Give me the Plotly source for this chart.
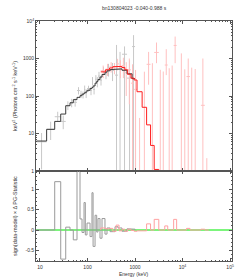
import math
import plotly.graph_objects as go

title_text = "bn130804023 -0.040-0.988 s"
x_title = "Energy (keV)"
y_title_top = "keV<sup>2</sup> (Photons cm<sup>-2</sup> s<sup>-1</sup> keV<sup>-1</sup>)"
y_title_bot = "sign(data-model) × Δ PG-Statistic"

# NaI detector (black / gray)
nai_edges = [8.44, 13.8, 20.4, 27.3, 34.8, 42.8, 50.2, 60.1, 69.5, 76.6, 84.4, 89.9, 97.5,
             113, 124, 131, 144, 156, 166, 183, 202, 233, 257, 298, 379, 439, 532, 679, 865, 1000]
nai_model = [6.3, 12.9, 21, 33, 55, 66, 80, 92, 102, 112, 120, 127, 142,
             158, 168, 185, 220, 245, 275, 320, 375, 430, 470, 505, 525, 528, 485, 390, 290]
nai_data = [6.0, 13, 28, 21, 56, 66, 68, 140, 112, 108, 150, 118, 158,
            140, 250, 150, 280, 240, 340, 265, 470, 390, 520, 480, 360, 520, 1300, 300, 2080]
nai_lo = [1.1, 6.7, 21, 13, 42, 50, 52, 110, 88, 86, 112, 88, 130,
          105, 190, 110, 210, 170, 250, 190, 360, 280, 330, 250, 0.01, 0.01, 0.01, 0.01, 0.01]
nai_hi = [10.3, 20.6, 38, 30, 72, 84, 86, 172, 138, 132, 190, 150, 188,
          178, 320, 195, 360, 320, 440, 350, 600, 520, 720, 760, 2300, 1500, 2100, 900, 4200]
nai_resid = [0, 0, 1.18, -0.71, 0.07, 0.0, -0.24, 1.6, 0.27, -0.06, 0.67, -0.12, 0.17,
             -0.16, 0.91, -0.4, 0.36, -0.05, 0.28, -0.2, 0.28, -0.1, 0.05, -0.04, 0.08, 0.05, -0.03, 0.03, 0.02]

# BGO detector (red / pink)
bgo_edges = [190, 240, 290, 340, 400, 460, 530, 610, 700, 820, 955, 1100, 1410, 1750, 2120, 2530, 3160,
             3650, 4220, 4870, 5620, 6490, 7500, 8660, 10240, 12100, 14300, 16950, 20050, 24300, 29400, 35600]
bgo_model = [440, 500, 560, 605, 630, 615, 575, 500, 380, 300, 267, 130, 50, 17, 4.8, 1.1]
bgo_data = [470, 520, 600, 560, 720, 580, 650, 420, 500, 220, 150, 0.3, 0.3, 700, 0.3, 1450,
            0.3, 0.3, 670, 0.3, 0.3, 2230, 0.3, 0.3, 0.3, 330, 0.3, 0.3, 0.3, 56.5, 0.3]
bgo_lo = [300, 340, 420, 380, 480, 300, 300, 100, 60, 0.01, 0.01, 0.01, 0.01, 200, 0.01, 750,
          0.01, 0.01, 360, 0.01, 0.01, 750, 0.01, 0.01, 0.01, 0.01, 0.01, 0.01, 0.01, 0.01, 0.01]
bgo_hi = [650, 720, 800, 760, 980, 900, 1050, 800, 1000, 700, 495, 26, 445, 1500, 750, 2670,
          500, 450, 1770, 550, 650, 3850, 0.8, 1370, 515, 1000, 570, 525, 0.8, 1000, 2.2]
bgo_resid = [0.05, 0.03, 0.04, -0.03, 0.12, -0.02, 0.02, -0.03, 0.02, -0.01, -0.03, -0.02, -0.02, 0.15, 0.0, 0.26,
             0.0, 0.0, 0.1, 0.0, 0.0, 0.26, 0.0, 0.0, 0.0, 0.04, 0.0, 0.0, 0.0, 0.02, 0.0]

x_tickvals = [10, 100, 1000, 1e4, 1e5]
x_ticktext = ["10", "100", "1000", "10<sup>4</sup>", "10<sup>5</sup>"]
y_tickvals = [1, 10, 100, 1000, 1e4]
y_ticktext = ["1", "10", "100", "1000", "10<sup>4</sup>"]
r_tickvals = [-0.5, 0, 0.5, 1]
r_ticktext = ["-0.5", "0", "0.5", "1"]

GRAY_D = "#c8c8c8"
PINK_D = "#ffc0c0"
BLACK_M = "#3a3a3a"
RED_M = "#ff1e1e"
GRAY_R = "#9a9a9a"
PINK_R = "#ffa0a0"
GREEN = "#7cf57c"
AX = "#555555"


def step_xy(edges, vals):
    xs, ys = [], []
    for i, v in enumerate(vals):
        xs += [edges[i], edges[i + 1]]
        ys += [v, v]
    return xs, ys


def resid_xy(edges, vals):
    xs, ys = step_xy(edges, vals)
    return [edges[0]] + xs + [edges[len(vals)]], [0] + ys + [0]


def cross_xy(edges, v, lo, hi):
    xs, ys = [], []
    for i in range(len(v)):
        c = math.sqrt(edges[i] * edges[i + 1])
        xs += [edges[i], edges[i + 1], None, c, c, None]
        ys += [v[i], v[i], None, lo[i], hi[i], None]
    return xs, ys


fig = go.Figure()

x, y = cross_xy(nai_edges, nai_data, nai_lo, nai_hi)
fig.add_trace(go.Scatter(x=x, y=y, mode="lines", line=dict(color=GRAY_D, width=1),
                         xaxis="x", yaxis="y", hoverinfo="skip"))
x, y = cross_xy(bgo_edges, bgo_data, bgo_lo, bgo_hi)
fig.add_trace(go.Scatter(x=x, y=y, mode="lines", line=dict(color=PINK_D, width=1),
                         xaxis="x", yaxis="y", hoverinfo="skip"))
x, y = step_xy(nai_edges, nai_model)
fig.add_trace(go.Scatter(x=x, y=y, mode="lines", line=dict(color=BLACK_M, width=1),
                         xaxis="x", yaxis="y", hoverinfo="skip"))
x, y = step_xy(bgo_edges, bgo_model)
x = x + [x[-1]]
y = y + [0.01]
fig.add_trace(go.Scatter(x=x, y=y, mode="lines", line=dict(color=RED_M, width=1),
                         xaxis="x", yaxis="y", hoverinfo="skip"))

fig.add_trace(go.Scatter(x=[8, 1.2e5], y=[0, 0], mode="lines", line=dict(color=GREEN, width=2),
                         xaxis="x2", yaxis="y2", hoverinfo="skip"))
x, y = resid_xy(nai_edges, nai_resid)
fig.add_trace(go.Scatter(x=x, y=y, mode="lines", line=dict(color=GRAY_R, width=1),
                         xaxis="x2", yaxis="y2", hoverinfo="skip"))
x, y = resid_xy(bgo_edges, bgo_resid)
fig.add_trace(go.Scatter(x=x, y=y, mode="lines", line=dict(color=PINK_R, width=1),
                         xaxis="x2", yaxis="y2", hoverinfo="skip"))


def log_minor(lo, hi):
    return [m * 10 ** k for k in range(lo, hi) for m in range(2, 10)]


tickfont = dict(family="Liberation Sans, Arial, sans-serif", size=5, color="#333333")
common_x = dict(type="log", range=[0.916, 5.04], tickmode="array", tickvals=x_tickvals,
                ticktext=x_ticktext, ticks="inside", ticklen=3, tickcolor=AX, tickwidth=0.7,
                showline=True, linecolor=AX, linewidth=0.8, mirror="allticks", showgrid=False,
                zeroline=False, tickfont=tickfont, automargin=False,
                minor=dict(tickmode="array", tickvals=log_minor(0, 5), ticks="inside",
                           ticklen=1.5, tickcolor=AX, tickwidth=0.6, showgrid=False))

fig.update_layout(
    template="none",
    width=240, height=279,
    margin=dict(l=36, r=8, t=21, b=18, pad=0),
    paper_bgcolor="white", plot_bgcolor="white",
    showlegend=False,
    xaxis=dict(common_x, anchor="y", showticklabels=False, matches="x2"),
    xaxis2=dict(common_x, anchor="y2", ticklabelstandoff=1),
    yaxis=dict(type="log", range=[0, 4], domain=[0.375, 1], tickmode="array",
               tickvals=y_tickvals, ticktext=y_ticktext, ticks="inside", ticklen=3,
               tickcolor=AX, tickwidth=0.7, showline=True, linecolor=AX, linewidth=0.8,
               mirror="allticks", showgrid=False, zeroline=False, tickfont=tickfont,
               automargin=False,
               minor=dict(tickmode="array", tickvals=log_minor(0, 4), ticks="inside",
                          ticklen=1.5, tickcolor=AX, tickwidth=0.6, showgrid=False)),
    yaxis2=dict(range=[-0.756, 1.44], domain=[0, 0.375], tickmode="array",
                tickvals=r_tickvals, ticktext=r_ticktext, ticks="inside", ticklen=3,
                tickcolor=AX, tickwidth=0.7, showline=True, linecolor=AX, linewidth=0.8,
                mirror="allticks", showgrid=False, zeroline=False, tickfont=tickfont,
                automargin=False,
                minor=dict(dtick=0.1, ticks="inside", ticklen=1.5, tickcolor=AX,
                           tickwidth=0.6, showgrid=False)),
)

annfont = dict(family="Liberation Sans, Arial, sans-serif", size=5, color="#333333")
fig.add_annotation(text=title_text, xref="paper", yref="paper", x=0.5, y=1.054,
                   showarrow=False, font=annfont, xanchor="center", yanchor="middle")
fig.add_annotation(text=x_title, xref="paper", yref="paper", x=0.5, y=-0.054,
                   showarrow=False, font=annfont, xanchor="center", yanchor="middle")
fig.add_annotation(text=y_title_top, xref="paper", yref="paper", x=-0.107, y=0.6875,
                   showarrow=False, font=dict(annfont, size=5.4), textangle=-90,
                   xanchor="center", yanchor="middle")
fig.add_annotation(text=y_title_bot, xref="paper", yref="paper", x=-0.107, y=0.1875,
                   showarrow=False, font=dict(annfont, size=5.4), textangle=-90,
                   xanchor="center", yanchor="middle")

fig.write_html("out.html", config={"displayModeBar": False},
               post_script="document.body.style.margin='0';document.body.style.padding='0';")
